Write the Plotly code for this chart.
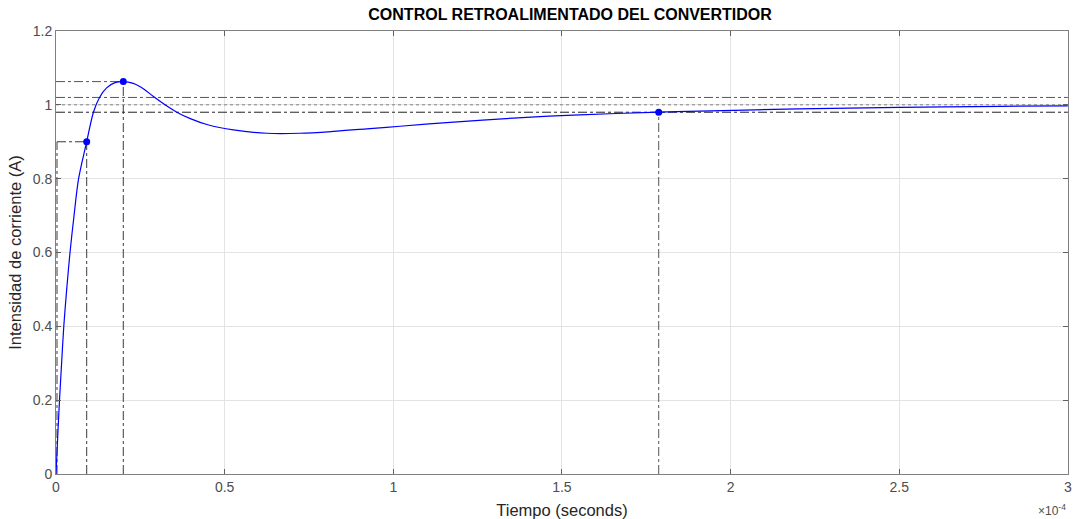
import plotly.graph_objects as go

# Time in units of 1e-4 s
t = [0, 0.005, 0.0104, 0.0166, 0.0231, 0.0317, 0.0415, 0.0535, 0.067, 0.091,
     0.111, 0.129, 0.150, 0.175, 0.1995, 0.229, 0.260, 0.288, 0.320, 0.358, 0.400, 0.450,
     0.526, 0.625, 0.723, 0.822, 0.921, 1.020, 1.158, 1.356, 1.553, 1.787, 1.909, 2.200,
     2.500, 2.800, 3.000]
i_out = [0, 0.10, 0.20, 0.30, 0.40, 0.50, 0.60, 0.70, 0.80, 0.90,
         0.980, 1.020, 1.046, 1.060, 1.063, 1.058, 1.043, 1.023, 1.002, 0.980, 0.962, 0.946,
         0.932, 0.923, 0.923, 0.928, 0.935, 0.942, 0.952, 0.964, 0.973, 0.980, 0.983, 0.989,
         0.993, 0.996, 0.997]

t_rise_lo = 0.003
t_rise_hi = 0.091
y_rise_hi = 0.90
t_peak = 0.1995
y_peak = 1.063
t_settle = 1.787
y_settle = 0.980
y_band = [0.98, 1.02]
y_final = 1.0
t_max = 3.0

x_ticks = [0, 0.5, 1, 1.5, 2, 2.5, 3]
x_tick_text = ["0", "0.5", "1", "1.5", "2", "2.5", "3"]
y_ticks = [0, 0.2, 0.4, 0.6, 0.8, 1.0, 1.2]
y_tick_text = ["0", "0.2", "0.4", "0.6", "0.8", "1", "1.2"]

ref_col = "#3a3a3a"
fig = go.Figure()

def ref_line(xs, ys, dash="dashdot", color=ref_col):
    fig.add_trace(go.Scatter(x=xs, y=ys, mode="lines", showlegend=False, hoverinfo="skip",
                             line=dict(color=color, width=1, dash=dash)))

# characteristic reference lines
ref_line([0, t_max], [y_band[1], y_band[1]], color="#555555")
ref_line([0, t_max], [y_band[0], y_band[0]], color="#222222")
ref_line([0, t_max], [y_final, y_final], dash="dot", color="#808080")
ref_line([0, t_peak], [y_peak, y_peak], color="#555555")
ref_line([t_peak, t_peak], [0, y_peak])
ref_line([t_rise_lo, t_rise_hi], [y_rise_hi, y_rise_hi])
ref_line([t_rise_lo, t_rise_lo], [0, y_rise_hi])
ref_line([t_rise_hi, t_rise_hi], [0, y_rise_hi])
ref_line([t_settle, t_settle], [0, y_settle], color="#555555")

fig.add_trace(go.Scatter(x=t, y=i_out, mode="lines", showlegend=False,
                         line=dict(color="#0000ff", width=1.2, shape="spline", smoothing=0.9)))
fig.add_trace(go.Scatter(x=[t_rise_hi, t_peak, t_settle], y=[y_rise_hi, y_peak, y_settle],
                         mode="markers", showlegend=False,
                         marker=dict(color="#0000ff", size=7)))

axis_common = dict(showgrid=True, gridcolor="#e3e3e3", gridwidth=1, zeroline=False,
                   showline=True, linecolor="#808080", linewidth=1, mirror="ticks",
                   ticks="inside", ticklen=5, tickcolor="#606060", automargin=False,
                   tickfont=dict(family="Liberation Sans, Arial", size=14, color="#4d4d4d"))

fig.update_layout(
    width=1076, height=519,
    margin=dict(l=56, r=8, t=31, b=45),
    paper_bgcolor="white", plot_bgcolor="white",
    title=dict(text="<b>CONTROL RETROALIMENTADO DEL CONVERTIDOR</b>", x=0.508, xanchor="center",
               xref="paper", y=0.983, yanchor="top",
               font=dict(family="Liberation Sans, Arial", size=16, color="#000000")),
    xaxis=dict(range=[0, t_max + 0.0005], tickvals=x_ticks, ticktext=x_tick_text,
               title=dict(text="Tiempo (seconds)", standoff=10,
                          font=dict(family="Liberation Sans, Arial", size=16.5, color="#262626")),
               **axis_common),
    yaxis=dict(range=[0, 1.2], tickvals=y_ticks, ticktext=y_tick_text,
               title=dict(text="Intensidad de corriente (A)", standoff=6,
                          font=dict(family="Liberation Sans, Arial", size=16.5, color="#262626")),
               **axis_common),
    annotations=[dict(text="×10<sup>-4</sup>", x=1.0, xref="paper", y=-0.081, yref="paper",
                      xanchor="right", yanchor="middle", showarrow=False,
                      font=dict(family="Liberation Sans, Arial", size=12, color="#4d4d4d"))],
)

fig.write_html("out.html", config={"displayModeBar": False},
               post_script="document.body.style.margin='0';document.body.style.overflow='hidden';")
